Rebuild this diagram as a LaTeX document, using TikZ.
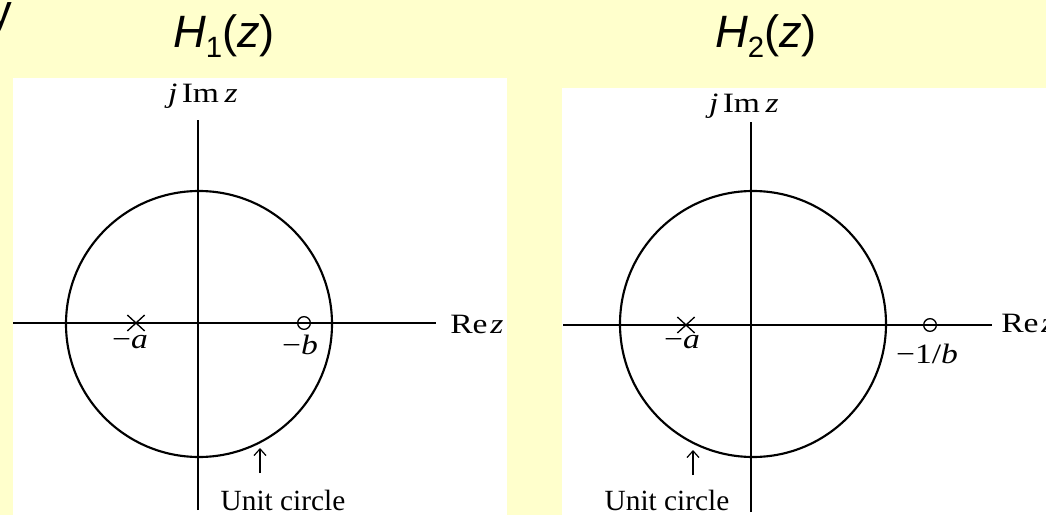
\documentclass[tikz,border=0pt]{standalone}
\usepackage{fontspec}
\setmainfont{Liberation Serif}
\newfontfamily\titlefont{Liberation Sans}
\newfontfamily\axisfont[FakeStretch=1.2]{Liberation Serif}
\usepackage{tikz}
\usetikzlibrary{arrows.meta,shapes.misc}
\usepackage{xcolor}
\definecolor{slidebg}{RGB}{255,255,204}

\begin{document}
\begin{tikzpicture}[
    x=0.75pt, y=0.75pt,
    title/.style={
      font=\titlefont\fontsize{34}{40}\selectfont,
      anchor=base,
      inner sep=0pt
    },
    axis/.style={line width=1.8pt},
    unit/.style={line width=1.6pt},
    lbl/.style={
      font=\axisfont\fontsize{21}{24}\selectfont,
      anchor=base,
      inner sep=0pt
    },
    note/.style={
      font=\fontsize{22}{24}\selectfont,
      anchor=base,
      inner sep=0pt
    },
    pole/.style={
      draw,
      cross out,
      line width=1pt,
      minimum width=12pt,
      minimum height=11pt,
      inner sep=0pt
    },
    zero/.style={
      draw,
      circle,
      line width=1pt,
      minimum size=9.5pt,
      inner sep=0pt
    },
    pointer/.style={line width=0.9pt, -{Straight Barb[length=5pt,width=9pt]}}
  ]

    % Hoja
    \useasboundingbox (0,0) rectangle (1046,515);
    \fill[slidebg] (0,0) rectangle (1046,515);
    \node[title, anchor=base east] (tail) at (12,488) {y};

    % Titles
    \node[title] (hone) at (224,467)
      {\textit{H}\raisebox{-7pt}{\fontsize{22}{22}\selectfont 1}(\textit{z})};
    \node[title] (htwo) at (766,467)
      {\textit{H}\raisebox{-7pt}{\fontsize{22}{22}\selectfont 2}(\textit{z})};

    % Left plane
    \fill[white] (13,0) rectangle (507,437);
    \coordinate (lw) at (13,192);
    \coordinate (le) at (436,192);
    \coordinate (ls) at (198,5);
    \coordinate (ln) at (198,395);
    \draw[axis] (lw) -- (le);
    \draw[axis] (ls) -- (ln);
    \draw[unit] (199,191) circle[radius=133];

    \node[lbl] (lim) at (203,412) {\textit{j}\hspace{0.15em}Im\hspace{0.2em}\textit{z}};
    \node[lbl, anchor=base west] (lre) at (450,182) {Re\hspace{0.1em}\textit{z}};

    \node[pole] (lpole) at (136,192) {};
    \node[zero] (lzero) at (304,192) {};
    \node[lbl] (la) at (130,167) {−\textit{a}};
    \node[lbl] (lb) at (300,161) {−\textit{b}};

    \node[note] (lunit) at (283,5) {Unit circle};
    \coordinate (lfoot) at (260,42);
    \coordinate (ltip) at (260,67);
    \draw[pointer] (lfoot) -- (ltip);

    % Right plane
    \fill[white] (562,0) rectangle (1046,427);
    \coordinate (rw) at (563,190);
    \coordinate (re) at (992,190);
    \coordinate (rs) at (751,3);
    \coordinate (rn) at (751,393);
    \draw[axis] (rw) -- (re);
    \draw[axis] (rs) -- (rn);
    \draw[unit] (753,191) circle[radius=133];

    \node[lbl] (rim) at (744,402) {\textit{j}\hspace{0.15em}Im\hspace{0.2em}\textit{z}};
    \node[lbl, anchor=base west] (rre) at (1001,183) {Re\hspace{0.1em}\textit{z}};

    \node[pole] (rpole) at (686,190) {};
    \node[zero] (rzero) at (930,190) {};
    \node[lbl] (ra) at (682,167) {−\textit{a}};
    \node[lbl] (rb) at (927,152) {−1/\textit{b}};

    \node[note] (runit) at (667,5) {Unit circle};
    \coordinate (rfoot) at (693,40);
    \coordinate (rtip) at (693,65);
    \draw[pointer] (rfoot) -- (rtip);

  \end{tikzpicture}
\end{document}
